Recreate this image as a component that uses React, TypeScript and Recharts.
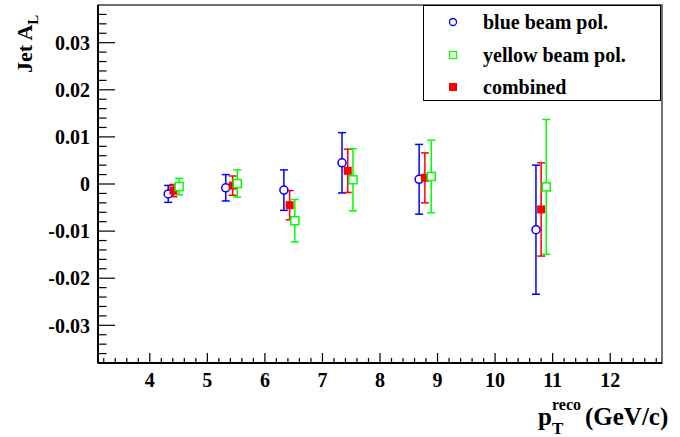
import React from 'react';
import { ScatterChart, Scatter, XAxis, YAxis, ErrorBar, ReferenceArea, Legend, Label } from 'recharts';

// ---- data ----
const blueX = [4.32, 5.32, 6.33, 7.34, 8.68, 10.71];
const blueY = [-0.0021, -0.0008, -0.0013, 0.0045, 0.001, -0.0097];
const blueErr = [0.0018, 0.0028, 0.0043, 0.0064, 0.0074, 0.0137];

const yellowX = [4.51, 5.52, 6.52, 7.53, 8.89, 10.89];
const yellowY = [-0.00055, 0.0001, -0.0078, 0.0009, 0.0016, -0.0006];
const yellowErr = [0.00175, 0.0029, 0.0045, 0.0066, 0.0077, 0.0143];

const combinedX = [4.41, 5.44, 6.43, 7.44, 8.78, 10.8];
const combinedY = [-0.0014, -0.00035, -0.0045, 0.0028, 0.0013, -0.0054];
const combinedErr = [0.0013, 0.00205, 0.0031, 0.0046, 0.0053, 0.0099];

const seriesNames = ['blue beam pol.', 'yellow beam pol.', 'combined'];

const xMajorTicks = [4, 5, 6, 7, 8, 9, 10, 11, 12];
const xTickLabels = ['4', '5', '6', '7', '8', '9', '10', '11', '12'];
const yMajorTicks = [-0.03, -0.02, -0.01, 0, 0.01, 0.02, 0.03];
const yTickLabels = ['-0.03', '-0.02', '-0.01', '0', '0.01', '0.02', '0.03'];

const xDomain = [3.1, 12.9];
const yDomain = [-0.038, 0.038];

// minor tick positions (axis subdivisions)
const xAllTicks: number[] = [];
for (let i = 16; i <= 64; i++) xAllTicks.push(Math.round(i * 20) / 100);
const yAllTicks: number[] = [];
for (let i = -18; i <= 18; i++) yAllTicks.push(Math.round(i * 2) / 1000);

const build = (xs: number[], ys: number[], es: number[]) =>
  xs.map((x, i) => ({ x, y: ys[i], err: es[i] }));

const blueData = build(blueX, blueY, blueErr);
const yellowData = build(yellowX, yellowY, yellowErr);
const combinedData = build(combinedX, combinedY, combinedErr);

const BLUE = '#0000ff';
const GREEN = '#00ff00';
const RED = '#ff0000';
const FONT = 'Liberation Serif, DejaVu Serif, Times, serif';

const XTick = (props: any) => {
  const { x, y, payload } = props;
  const mi = xMajorTicks.findIndex((t) => Math.abs(t - payload.value) < 1e-6);
  const len = mi >= 0 ? 10 : 5;
  return (
    <g>
      <line x1={x} x2={x} y1={y} y2={y - len} stroke="#000" strokeWidth={1.2} />
      {mi >= 0 && (
        <text x={x} y={y + 24} textAnchor="middle" style={{ fontFamily: FONT }} fontWeight="bold" fontSize={20} fill="#000">
          {xTickLabels[mi]}
        </text>
      )}
    </g>
  );
};

const YTick = (props: any) => {
  const { x, y, payload } = props;
  const mi = yMajorTicks.findIndex((t) => Math.abs(t - payload.value) < 1e-7);
  const len = mi >= 0 ? 17 : 8.5;
  return (
    <g>
      <line x1={x} x2={x + len} y1={y} y2={y} stroke="#000" strokeWidth={1.2} />
      {mi >= 0 && (
        <text x={x - 8} y={y} dy="0.36em" textAnchor="end" style={{ fontFamily: FONT }} fontWeight="bold" fontSize={20} fill="#000">
          {yTickLabels[mi]}
        </text>
      )}
    </g>
  );
};

const YTitle = () => (
  <text x={32} y={73} transform="rotate(-90, 32, 73)" style={{ fontFamily: FONT }} fontWeight="bold" fontSize={22} fill="#000">
    <tspan>Jet A</tspan>
    <tspan dy={6} fontSize={15}>L</tspan>
  </text>
);

const XTitle = () => (
  <g style={{ fontFamily: FONT }} fontWeight="bold" fill="#000">
    <text x={538} y={425} fontSize={25}>p</text>
    <text x={552} y={434} fontSize={17}>T</text>
    <text x={552} y={410} fontSize={16}>reco</text>
    <text x={585} y={425} fontSize={25}>(GeV/c)</text>
  </g>
);

const Circle = (p: any) => (
  <circle cx={p.cx} cy={p.cy} r={4} fill="#fff" stroke={BLUE} strokeWidth={1.5} />
);
const OpenSquare = (p: any) => (
  <rect x={p.cx - 4} y={p.cy - 4} width={8} height={8} fill="#fff" stroke={GREEN} strokeWidth={1.5} />
);
const FilledSquare = (p: any) => (
  <rect x={p.cx - 4} y={p.cy - 4} width={8} height={8} fill={RED} stroke="none" />
);

const legendMarker = (i: number) => {
  if (i === 0) return <circle cx={6} cy={6} r={3.5} fill="#fff" stroke={BLUE} strokeWidth={1.3} />;
  if (i === 1) return <rect x={2.5} y={2.5} width={7} height={7} fill="#fff" stroke={GREEN} strokeWidth={1.3} />;
  return <rect x={2} y={2} width={8} height={8} fill={RED} />;
};

const LegendBox = () => (
  <div
    style={{
      position: 'relative',
      width: 238,
      height: 96,
      boxSizing: 'border-box',
      border: '1px solid #000',
      background: '#fff',
      fontFamily: FONT,
      fontWeight: 'bold',
      fontSize: 20,
      color: '#000',
    }}
  >
    {seriesNames.map((n, i) => (
      <div key={n} style={{ position: 'absolute', left: 0, top: 16 + i * 32.5 - 12, height: 24, width: '100%' }}>
        <svg width={12} height={12} style={{ position: 'absolute', left: 23, top: 6 }}>
          {legendMarker(i)}
        </svg>
        <span style={{ position: 'absolute', left: 59, top: 0, lineHeight: '24px', whiteSpace: 'nowrap' }}>{n}</span>
      </div>
    ))}
  </div>
);

export default function App() {
  return (
    <div style={{ position: 'absolute', left: 0, top: 0, width: 680, height: 437, background: '#fff' }}>
      <ScatterChart width={680} height={437} margin={{ top: 5, right: 18, bottom: 0, left: 0 }}>
        <ReferenceArea
          x1={xDomain[0]}
          x2={xDomain[1]}
          y1={yDomain[0]}
          y2={yDomain[1]}
          fill="none"
          fillOpacity={0}
          stroke="#444"
          strokeWidth={1.5}
        />
        <XAxis
          type="number"
          dataKey="x"
          domain={xDomain}
          ticks={xAllTicks}
          interval={0}
          allowDataOverflow
          height={74}
          tickSize={0}
          tickMargin={0}
          tickLine={false}
          axisLine={{ stroke: '#000', strokeWidth: 2 }}
          tick={<XTick />}
        >
          <Label content={<XTitle />} />
        </XAxis>
        <YAxis
          type="number"
          dataKey="y"
          domain={yDomain}
          ticks={yAllTicks}
          interval={0}
          allowDataOverflow
          width={98}
          tickSize={0}
          tickMargin={0}
          tickLine={false}
          axisLine={{ stroke: '#000', strokeWidth: 2 }}
          tick={<YTick />}
        >
          <Label content={<YTitle />} />
        </YAxis>
        <Legend
          layout="horizontal"
          verticalAlign="middle"
          align="center"
          wrapperStyle={{ position: 'absolute', left: 423, top: 5, width: 238, height: 96 }}
          content={<LegendBox />}
        />
        <Scatter name={seriesNames[0]} data={blueData} fill={BLUE} shape={<Circle />} isAnimationActive={false}>
          <ErrorBar dataKey="err" direction="y" width={4} stroke={BLUE} strokeWidth={1.5} />
        </Scatter>
        <Scatter name={seriesNames[2]} data={combinedData} fill={RED} shape={<FilledSquare />} isAnimationActive={false}>
          <ErrorBar dataKey="err" direction="y" width={4} stroke={RED} strokeWidth={1.5} />
        </Scatter>
        <Scatter name={seriesNames[1]} data={yellowData} fill={GREEN} shape={<OpenSquare />} isAnimationActive={false}>
          <ErrorBar dataKey="err" direction="y" width={4} stroke={GREEN} strokeWidth={1.5} />
        </Scatter>
      </ScatterChart>
    </div>
  );
}
